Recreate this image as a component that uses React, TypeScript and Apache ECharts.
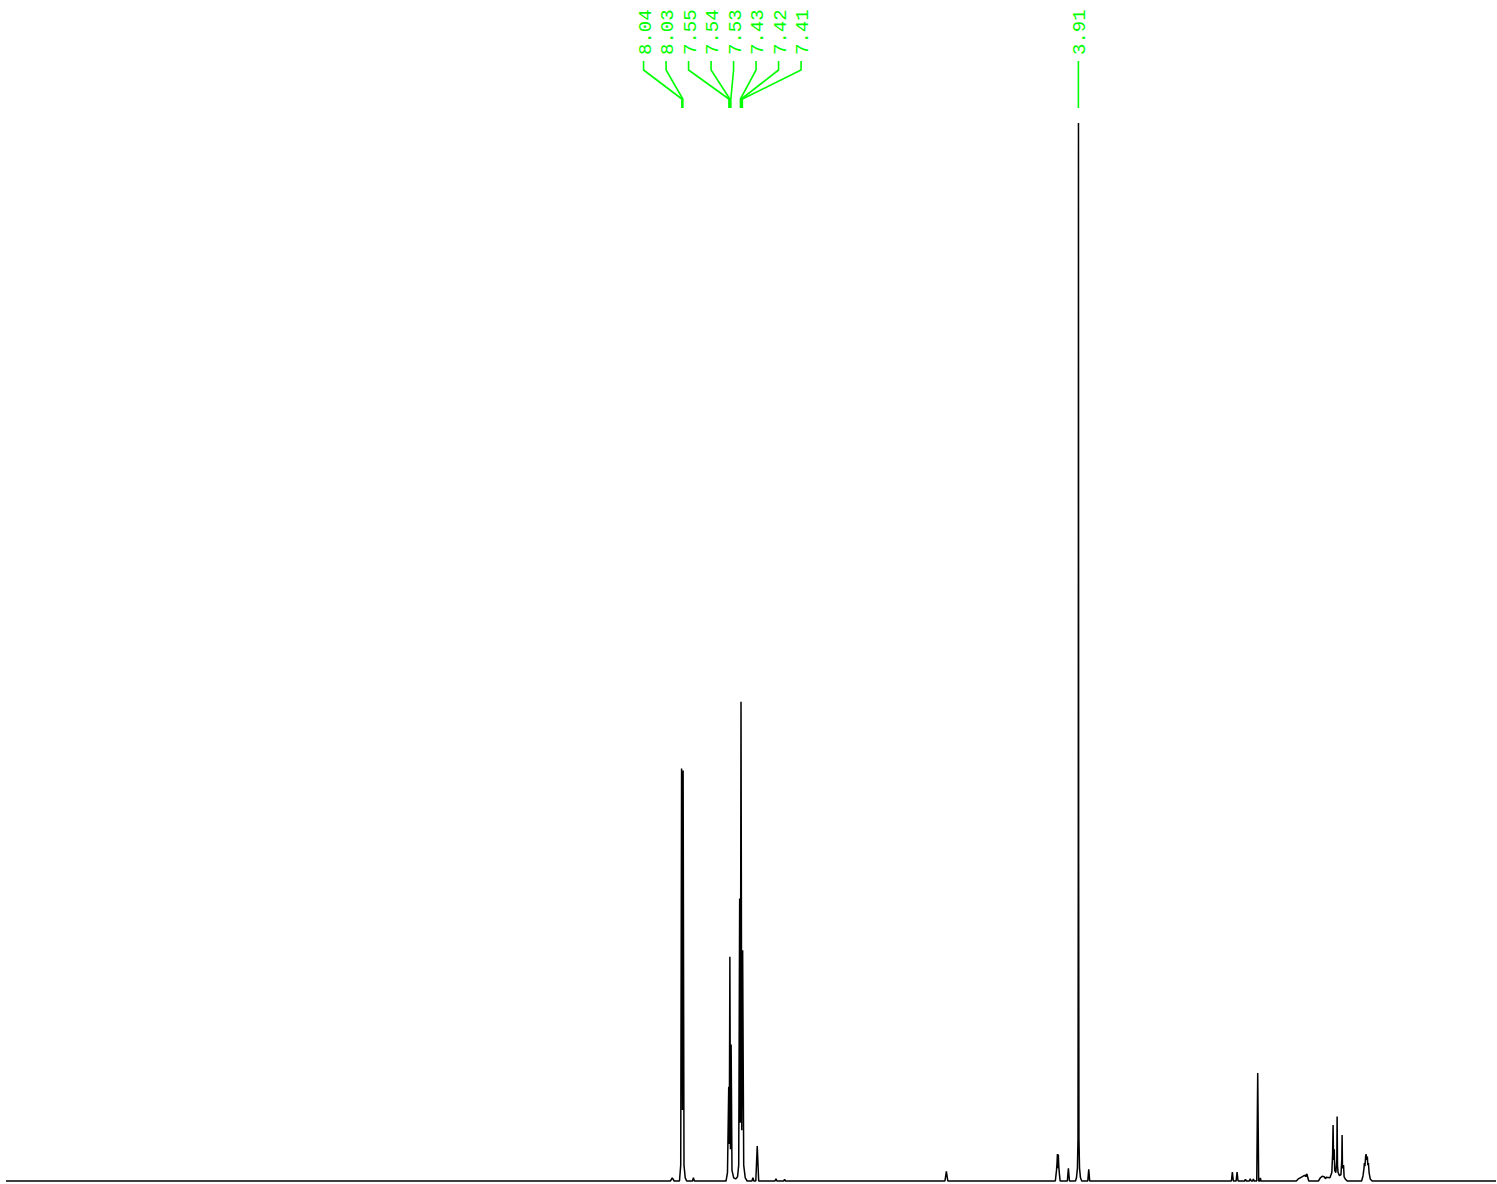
import React, { useEffect, useRef } from "react";
import * as echarts from "echarts";

// Spectrum trace: chemical shift (ppm) and relative intensity (3.91 singlet = 100)
const tracePpm = [
  15.08, 8.16, 8.14, 8.12, 8.065, 8.052, 8.043, 8.034, 8.027, 8.018, 8.005, 7.99, 7.93, 7.92, 7.91,
  7.58, 7.565, 7.552, 7.546, 7.540, 7.534, 7.527, 7.518, 7.50, 7.48,
  7.46, 7.448, 7.438, 7.431, 7.424, 7.416, 7.407, 7.396, 7.38, 7.36,
  7.31, 7.30, 7.29, 7.27, 7.255, 7.24, 7.07, 7.06, 7.05, 6.98, 6.97, 6.96,
  5.30, 5.285, 5.27,
  4.15, 4.138, 4.133, 4.128, 4.124, 4.119, 4.114, 4.108, 4.10,
  4.025, 4.014, 4.003,
  3.94, 3.93, 3.92, 3.914, 3.911, 3.909, 3.907, 3.904, 3.898, 3.888, 3.875,
  3.812, 3.802, 3.792,
  2.316, 2.306, 2.296, 2.267, 2.257, 2.247, 2.18, 2.17, 2.16, 2.13, 2.12, 2.11, 2.095, 2.087, 2.08,
  2.052, 2.042, 2.032, 2.02, 2.014, 2.008,
  1.64, 1.62, 1.59, 1.56, 1.545, 1.54, 1.535, 1.528, 1.52, 1.51,
  1.41, 1.39, 1.37, 1.35, 1.335, 1.33,
  1.29, 1.27, 1.262, 1.257, 1.252, 1.245, 1.24, 1.228, 1.218, 1.215, 1.211, 1.205, 1.19, 1.175,
  1.166, 1.163, 1.159, 1.148, 1.142, 1.13, 1.11,
  0.96, 0.945, 0.935, 0.931, 0.925, 0.918, 0.913, 0.907, 0.900, 0.895, 0.889, 0.882, 0.87, 0.85,
  -0.44,
];
const traceInt = [
  0, 0, 0.3, 0, 0, 1.5, 39.0, 6.7, 38.8, 1.5, 0.3, 0, 0, 0.3, 0,
  0, 0.8, 8.9, 3.5, 21.2, 3.0, 12.9, 1.0, 0.3, 0.2,
  0.4, 1.5, 26.7, 5.5, 45.3, 4.8, 21.8, 1.5, 0.3, 0,
  0, 0.3, 0, 0, 3.3, 0, 0, 0.2, 0, 0, 0.15, 0,
  0, 0.9, 0,
  0, 1.0, 1.6, 2.55, 1.2, 2.5, 1.4, 0.7, 0,
  0, 1.2, 0,
  0, 0.3, 1.2, 4, 30, 100, 30, 4, 1.2, 0.3, 0,
  0, 1.1, 0,
  0, 0.85, 0, 0, 0.85, 0, 0, 0.15, 0, 0, 0.2, 0, 0, 0.2, 0,
  0, 10.2, 0, 0, 0.3, 0,
  0, 0.2, 0.35, 0.5, 0.55, 0.4, 0.6, 0.65, 0.3, 0,
  0, 0.3, 0.45, 0.4, 0.2, 0.35,
  0.3, 0.8, 2.5, 5.3, 2.0, 3.0, 1.0, 0.8, 2.0, 6.1, 1.5, 0.8, 0.5, 0.6,
  2.0, 4.35, 1.2, 1.5, 0.4, 0.2, 0,
  0, 0.5, 1.2, 1.7, 1.4, 2.3, 2.55, 2.0, 2.3, 1.5, 1.7, 0.8, 0.2, 0,
  0,
];

// Peak labels
const multipletLabels = ["8.04", "8.03", "7.55", "7.54", "7.53", "7.43", "7.42", "7.41"];
const multipletPpm = [8.04, 8.03, 7.55, 7.54, 7.53, 7.43, 7.42, 7.41];
const singletLabels = ["3.91"];
const singletPpm = [3.91];

const PPM_MIN = -0.44;
const PPM_MAX = 15.08;
const GREEN = "#00ff00";

export default function App() {
  const ref = useRef<HTMLDivElement>(null);

  useEffect(() => {
    document.body.style.margin = "0";
    const chart = echarts.init(ref.current!, null, { renderer: "svg" });
    chart.setOption({
      animation: false,
      backgroundColor: "#ffffff",
      grid: { left: 6, right: 1, top: 123, bottom: 3 },
      xAxis: {
        type: "value",
        min: PPM_MIN,
        max: PPM_MAX,
        inverse: true,
        show: false,
      },
      yAxis: { type: "value", min: 0, max: 100, show: false },
      series: [
        {
          type: "line",
          data: tracePpm.map((p, i) => [p, traceInt[i]]),
          showSymbol: false,
          symbol: "none",
          clip: false,
          lineStyle: { color: "#000000", width: 1.5 },
          silent: true,
        },
      ],
    });

    const graphics: any[] = [];
    const addGroup = (labels: string[], ppms: number[], spacing: number) => {
      const px = ppms.map((p) => chart.convertToPixel({ xAxisIndex: 0 }, p) as number);
      const mean = px.reduce((a, b) => a + b, 0) / px.length;
      labels.forEach((t, i) => {
        const L = mean + (i - (labels.length - 1) / 2) * spacing;
        const P = px[i];
        graphics.push({
          type: "polyline",
          silent: true,
          shape: { points: [[L, 61], [L, 70], [P, 99], [P, 108]] },
          style: { stroke: GREEN, lineWidth: 1.6, fill: null },
        });
        graphics.push({
          type: "text",
          silent: true,
          x: L + 2,
          y: 55,
          rotation: Math.PI / 2,
          style: {
            text: t,
            fill: GREEN,
            fontFamily: "Liberation Mono",
            fontSize: 19,
            align: "left",
            verticalAlign: "middle",
          },
        });
      });
    };
    addGroup(multipletLabels, multipletPpm, 22.5);
    addGroup(singletLabels, singletPpm, 22.5);
    chart.setOption({ graphic: graphics });

    return () => chart.dispose();
  }, []);

  return <div ref={ref} style={{ width: 1497, height: 1184 }} />;
}
